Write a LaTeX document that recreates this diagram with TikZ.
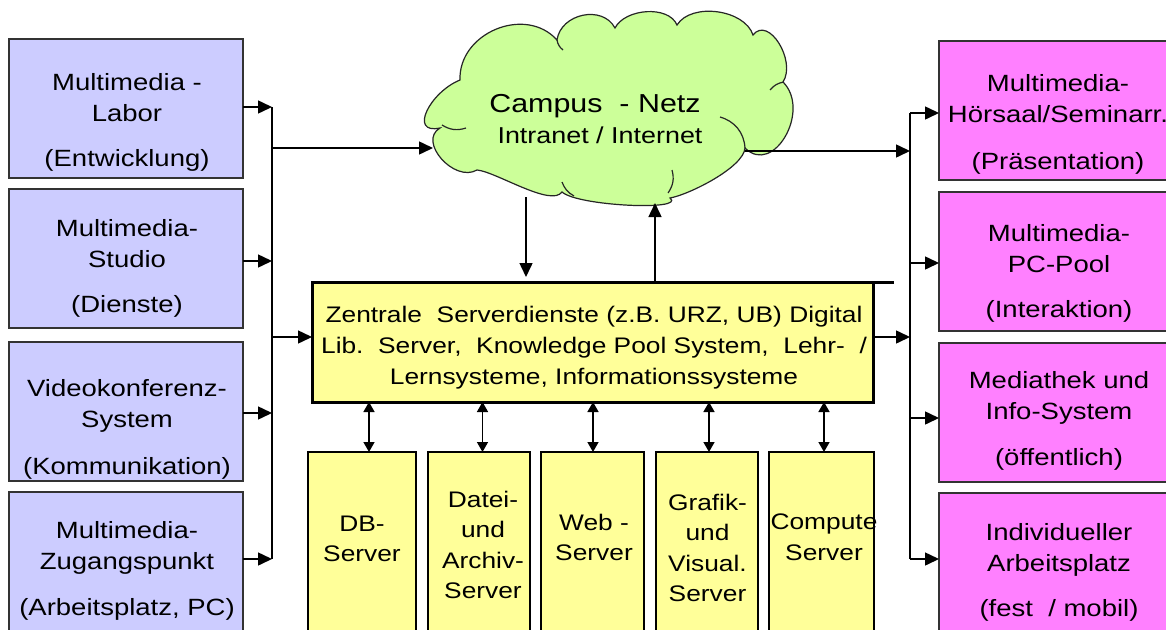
\documentclass[tikz,border=0pt]{standalone}
\usepackage{fontspec}
\setmainfont{Liberation Sans}[FakeStretch=1.17]
\usetikzlibrary{arrows.meta}
\definecolor{lavender}{HTML}{CCCCFF}
\definecolor{pinkbox}{HTML}{FF80FF}
\definecolor{paleyellow}{HTML}{FFFF99}
\definecolor{cloudgreen}{HTML}{CCFF99}

\begin{document}
\begin{tikzpicture}[x=1pt,y=1pt,
  every node/.style={inner sep=0pt, outer sep=0pt},
  inbox/.style={draw=black!80, line width=2pt, fill=lavender, minimum width=234pt, minimum height=139pt},
  outbox/.style={draw=black!80, line width=2pt, fill=pinkbox, minimum width=240pt, minimum height=139pt},
  corebox/.style={draw=black, line width=3pt, fill=paleyellow, minimum width=561pt, minimum height=120pt},
  srvbox/.style={draw=black, line width=2.5pt, fill=paleyellow, minimum height=188pt},
  boxtext/.style={align=center, anchor=north, font=\fontsize{23.5}{31}\selectfont},
  coretext/.style={align=center, anchor=north, font=\fontsize{22.5}{31}\selectfont},
  srvtext/.style={align=center, anchor=north, font=\fontsize{22.5}{30.5}\selectfont},
  conn/.style={line width=1.5pt},
  arr/.style={conn, -{Triangle[length=14pt,width=13pt]}},
  dbl/.style={conn, {Triangle[length=10pt,width=11pt]}-{Triangle[length=10pt,width=11pt]}},
  puff/.style={draw=black!85, line width=1.2pt},
]
\useasboundingbox (0,0) rectangle (1166,-629);
\fill[white] (0,0) rectangle (1166,-629);
\clip (0,0) rectangle (1166,-629);

% ---- cloud: campus network ----
\draw[puff, fill=cloudgreen]
  (440,-128) to[out=192,in=202,looseness=1.6] (460,-80)
  to[out=92,in=132,looseness=1.15] (557,-40)
  to[out=82,in=118,looseness=1.15] (615,-28)
  to[out=63,in=113,looseness=0.9] (677,-25)
  to[out=58,in=108,looseness=0.9] (753,-35)
  to[out=52,in=57,looseness=1.15] (783,-82)
  to[out=-45,in=-45,looseness=1.35] (745,-148)
  to[out=-94,in=10,looseness=0.55] (670,-198)
  to[out=-38,in=-42,looseness=0.5] (562,-192)
  to[out=-125,in=-5,looseness=0.55] (477,-170)
  to[out=-150,in=-150,looseness=1.2] (440,-128) -- cycle;
\draw[puff] (442,-125) to[bend right=25] (466,-128);
\draw[puff] (720,-117) to[bend left=35] (745,-148);
\draw[puff] (672,-170) to[bend left=25] (668,-193);
\draw[puff] (562,-182) to[bend right=20] (574,-196);
\draw[puff] (770,-90) to[bend left=20] (784,-82);
\draw[puff] (557,-40) to[bend right=20] (563,-50);
\node[anchor=base, font=\fontsize{26}{30}\selectfont] (nettitle) at (595,-112) {Campus\ \ - Netz};
\node[anchor=base, font=\fontsize{23}{28}\selectfont] (netsub) at (600,-143) {Intranet / Internet};
\coordinate (cloudW) at (433,-148);
\coordinate (cloudE) at (745,-151);
\coordinate (cloudS1) at (526,-197);
\coordinate (cloudS2) at (655,-203);

% ---- source boxes (left) ----
\node[inbox] (L1) at (126,-108.5) {};
\node[inbox] (L2) at (126,-258.5) {};
\node[inbox] (L3) at (126,-411.5) {};
\node[inbox] (L4) at (126,-561.5) {};
\node[boxtext] (L1t) at (127,-73) {Multimedia -\\Labor\\[14pt](Entwicklung)};
\node[boxtext] (L2t) at (127,-219) {Multimedia-\\Studio\\[14pt](Dienste)};
\node[boxtext] (L3t) at (127,-379) {Videokonferenz-\\System\\[16pt](Kommunikation)};
\node[boxtext] (L4t) at (127,-521) {Multimedia-\\Zugangspunkt\\[15pt](Arbeitsplatz, PC)};

% ---- target boxes (right) ----
\node[outbox] (R1) at (1059,-110.5) {};
\node[outbox] (R2) at (1059,-261.5) {};
\node[outbox] (R3) at (1059,-412.5) {};
\node[outbox] (R4) at (1059,-562.5) {};
\node[boxtext] (R1t) at (1058,-74) {Multimedia-\\Hörsaal/Seminarr.\\[16pt](Präsentation)};
\node[boxtext] (R2t) at (1059,-224) {Multimedia-\\PC-Pool\\[14pt](Interaktion)};
\node[boxtext] (R3t) at (1059,-371) {Mediathek und\\Info-System\\[15pt](öffentlich)};
\node[boxtext] (R4t) at (1059,-523) {Individueller\\Arbeitsplatz\\[14pt](fest\ \ / mobil)};

% ---- central services ----
\node[corebox] (C) at (592.5,-342) {};
\node[coretext] (Ct) at (594,-306)
  {Zentrale\ \ Serverdienste (z.B. URZ, UB) Digital\\
   Lib.\ \ Server,\ \ Knowledge Pool System,\ \ Lehr-\ \ /\\
   Lernsysteme, Informationssysteme};
\coordinate (Ctop) at (894,-282);
\draw[line width=3pt] (C.north west) -- (Ctop);

% ---- servers ----
\node[srvbox, minimum width=108pt] (S1) at (362,-546) {};
\node[srvbox, minimum width=102pt] (S2) at (479,-546) {};
\node[srvbox, minimum width=103pt] (S3) at (592.5,-546) {};
\node[srvbox, minimum width=102pt] (S4) at (707,-546) {};
\node[srvbox, minimum width=105pt] (S5) at (821.5,-546) {};
\node[srvtext] (S1t) at (362,-516) {DB-\\Server};
\node[srvtext] (S2t) at (483,-491) {Datei-\\und\\Archiv-\\Server};
\node[srvtext] (S3t) at (594,-514) {Web -\\Server};
\node[srvtext] (S4t) at (707.5,-494) {Grafik-\\und\\Visual.\\Server};
\node[srvtext] (S5t) at (824,-514) {Compute\\Server};

\draw[dbl] (C.south -| 369,0) -- (S1.north -| 369,0);
\draw[dbl] (C.south -| 482.5,0) -- (S2.north -| 482.5,0);
\draw[dbl] (C.south -| 593,0) -- (S3.north -| 593,0);
\draw[dbl] (C.south -| 709,0) -- (S4.north -| 709,0);
\draw[dbl] (C.south -| 824,0) -- (S5.north -| 824,0);

% ---- left collector bus ----
\coordinate (lb1) at (272,-107);
\coordinate (lb2) at (272,-261);
\coordinate (lb3) at (272,-413);
\coordinate (lb4) at (272,-559);
\coordinate (lbN) at (272,-148);
\coordinate (lbC) at (272,-337);
\draw[line width=2pt] (lb1) -- (lb4);
\draw[arr] (L1.east |- lb1) -- (lb1);
\draw[arr] (L2.east |- lb2) -- (lb2);
\draw[arr] (L3.east |- lb3) -- (lb3);
\draw[arr] (L4.east |- lb4) -- (lb4);
\draw[arr] (lbN) -- (cloudW);
\draw[arr] (lbC) -- (C.west |- lbC);

% ---- cloud <-> central services ----
\draw[arr] (cloudS1) -- (526,-277);
\draw[arr] (C.north -| cloudS2) -- (cloudS2);

% ---- right distribution bus ----
\coordinate (rb1) at (910,-113);
\coordinate (rb2) at (910,-263);
\coordinate (rb3) at (910,-418);
\coordinate (rb4) at (910,-559);
\coordinate (rbN) at (910,-151);
\coordinate (rbC) at (910,-337);
\draw[line width=2pt] (rb1) -- (rb4);
\draw[arr] (rb1) -- (R1.west |- rb1);
\draw[arr] (rb2) -- (R2.west |- rb2);
\draw[arr] (rb3) -- (R3.west |- rb3);
\draw[arr] (rb4) -- (R4.west |- rb4);
\draw[arr] (cloudE) -- (rbN);
\draw[arr] (C.east |- rbC) -- (rbC);
\end{tikzpicture}
\end{document}
